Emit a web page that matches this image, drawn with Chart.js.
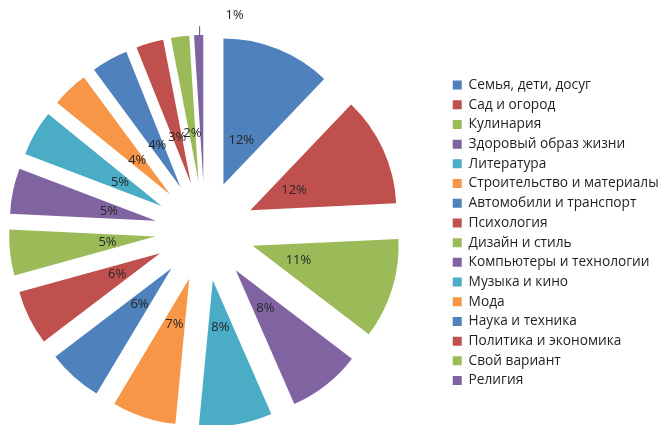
<!DOCTYPE html>
<html>
<head>
<meta charset="utf-8">
<script src="https://cdn.jsdelivr.net/npm/chart.js@4"></script>
<style>
  body { margin: 0; background: #fff; }
</style>
</head>
<body>
<canvas id="myChart" width="660" height="425"></canvas>
<script>
// categories and shares (percent)
var categories = [
  "Семья, дети, досуг",
  "Сад и огород",
  "Кулинария",
  "Здоровый образ жизни",
  "Литература",
  "Строительство и материалы",
  "Автомобили и транспорт",
  "Психология",
  "Дизайн и стиль",
  "Компьютеры и технологии",
  "Музыка и кино",
  "Мода",
  "Наука и техника",
  "Политика и экономика",
  "Свой вариант",
  "Религия"
];
var shares = [12, 12, 11, 8, 8, 7, 6, 6, 5, 5, 5, 4, 4, 3, 2, 1];

// excel 2007 palette, repeated
var palette = ["#4F81BD", "#C0504D", "#9BBB59", "#8064A2", "#4BACC6", "#F79646"];
var colors = categories.map(function(c, i) { return palette[i % palette.length]; });

var FONT = "'Open Sans', 'Noto Sans', sans-serif";
var RADIUS = 146;
var EXPLODE = 50; // how far every slice is pulled out of the centre

// draw each slice pulled out along its middle angle
// (chart.js own offset also shrinks thin slices, so it is done here)
var explodeSlices = {
  id: "explodeSlices",
  beforeDatasetDraw: function(chart, args) {
    var ctx = chart.ctx;
    args.meta.data.forEach(function(arc) {
      var mid = (arc.startAngle + arc.endAngle) / 2;
      ctx.save();
      ctx.translate(Math.cos(mid) * EXPLODE, Math.sin(mid) * EXPLODE);
      arc.draw(ctx);
      ctx.restore();
    });
    return false;
  }
};

// draws the percent labels on the slices
var sliceLabels = {
  id: "sliceLabels",
  afterDatasetsDraw: function(chart) {
    var ctx = chart.ctx;
    var meta = chart.getDatasetMeta(0);
    ctx.save();
    ctx.font = "13px " + FONT;
    ctx.fillStyle = "#262626";
    ctx.textAlign = "center";
    ctx.textBaseline = "middle";
    meta.data.forEach(function(arc, i) {
      var mid = (arc.startAngle + arc.endAngle) / 2;
      var text = shares[i] + "%";
      if (shares[i] < 1.5) {
        // too thin: label outside with a short leader
        var r0 = arc.outerRadius + EXPLODE;
        var x0 = arc.x + Math.cos(mid) * r0;
        var y0 = arc.y + Math.sin(mid) * r0;
        ctx.strokeStyle = "#595959";
        ctx.lineWidth = 1;
        ctx.beginPath();
        ctx.moveTo(x0 + 1, y0 + 1);
        ctx.lineTo(x0 + 1, y0 - 9);
        ctx.stroke();
        ctx.fillText(text, x0 + 36, y0 - 20);
      } else {
        var r = 98;
        ctx.fillText(text, arc.x + Math.cos(mid) * r, arc.y + Math.sin(mid) * r);
      }
    });
    ctx.restore();
  }
};

var ctx = document.getElementById("myChart").getContext("2d");
var chart = new Chart(ctx, {
  type: "pie",
  data: {
    labels: categories,
    datasets: [
      {
        data: shares,
        backgroundColor: colors,
        borderWidth: 0,
        hoverOffset: 0,
        clip: false
      }
    ]
  },
  options: {
    responsive: false,
    animation: false,
    radius: RADIUS,
    // negative left only widens the room the legend may take
    layout: { padding: { top: 37, left: -400, right: -8.7, bottom: 0 } },
    plugins: {
      // empty title used only as a gap between the pie and the legend
      title: {
        display: true,
        position: "right",
        weight: 500,
        text: "",
        padding: { top: 11, bottom: 14 },
        font: { size: 10 }
      },
      legend: {
        position: "right",
        title: { display: true, text: "", padding: 0, font: { size: 3 } },
        labels: {
          boxWidth: 9,
          boxHeight: 9,
          padding: 6,
          color: "#1f1f1f",
          font: { family: FONT, size: 13.7 }
        }
      },
      tooltip: { enabled: false }
    }
  },
  plugins: [explodeSlices, sliceLabels]
});
</script>
</body>
</html>
